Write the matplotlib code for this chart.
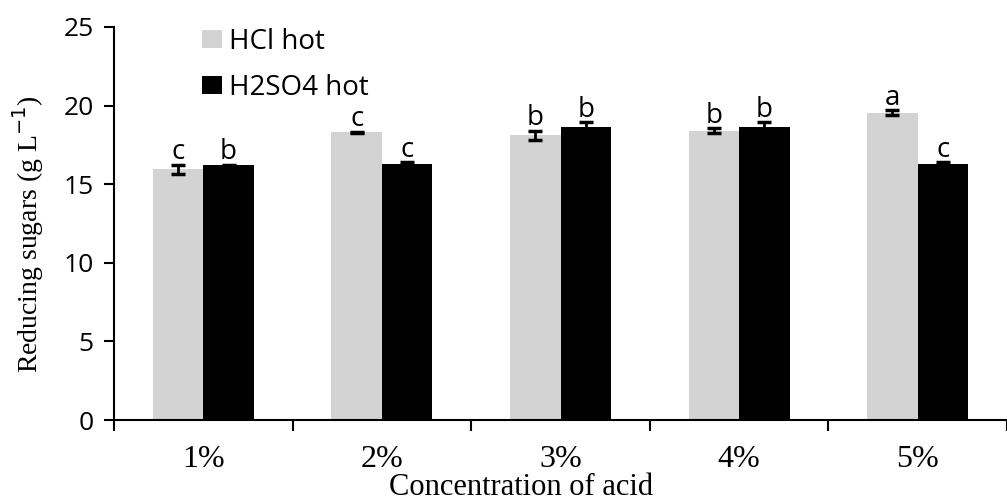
import numpy as np
import matplotlib.pyplot as plt

# data
conc = ['1%', '2%', '3%', '4%', '5%']
hcl = [15.95, 18.3, 18.1, 18.4, 19.55]
hcl_err = [0.3, 0.05, 0.3, 0.15, 0.15]
h2so4 = [16.2, 16.3, 18.65, 18.65, 16.3]
h2so4_err = [0.05, 0.1, 0.3, 0.3, 0.1]
hcl_letters = ['c', 'c', 'b', 'b', 'a']
h2so4_letters = ['b', 'c', 'b', 'b', 'c']

fig = plt.figure(figsize=(10.07, 5.01), dpi=100)
ax = fig.add_axes([114/1007, 1-420/501, 893/1007, 393/501])

x = np.arange(len(conc))
w = 0.283
ax.bar(x - w/2, hcl, w, color='#d3d3d3', label='HCl hot', zorder=2)
ax.bar(x + w/2, h2so4, w, color='black', label='H2SO4 hot', zorder=2)
ax.errorbar(x - w/2, hcl, yerr=hcl_err, fmt='none', ecolor='black',
            elinewidth=2, capsize=5, capthick=2.5, zorder=3)
ax.errorbar(x + w/2, h2so4, yerr=h2so4_err, fmt='none', ecolor='black',
            elinewidth=2, capsize=5, capthick=2.5, zorder=3)

# significance letters
for xi, v, e, t in zip(x - w/2, hcl, hcl_err, hcl_letters):
    ax.text(xi, v + e + 0.35, t, ha='center', va='baseline', fontsize=20, family='Open Sans')
for xi, v, e, t in zip(x + w/2, h2so4, h2so4_err, h2so4_letters):
    ax.text(xi, v + e + 0.35, t, ha='center', va='baseline', fontsize=20, family='Open Sans')

ax.set_xlim(-0.5, -0.5 + 893/180)
ax.set_ylim(0, 25)
ax.set_yticks([0, 5, 10, 15, 20, 25])
ax.tick_params(axis='y', direction='out', length=7.5, width=1.5, labelsize=19, pad=7)
for lab in ax.get_yticklabels():
    lab.set_family('Open Sans')

ax.set_xticks(x)
ax.set_xticklabels(conc, family='Liberation Serif', fontsize=23)
ax.set_xticks(np.arange(-0.5, 5, 1), minor=True)
ax.tick_params(axis='x', which='major', length=0, pad=18)
ax.tick_params(axis='x', which='minor', direction='out', length=8, width=1.5)

for s in ['top', 'right']:
    ax.spines[s].set_visible(False)
ax.spines['left'].set_linewidth(1.5)
ax.spines['bottom'].set_linewidth(1.5)

ax.set_ylabel('Reducing sugars (g L$^{-1}$)', family='Liberation Serif', fontsize=20)
ax.yaxis.set_label_coords(-0.076, 0.472)
ax.set_xlabel('Concentration of acid', family='Liberation Serif', fontsize=22)
ax.xaxis.set_label_coords(0.456, -0.134)

ax.legend(loc='upper left', bbox_to_anchor=(0.0985, 0.998), frameon=False,
          prop={'family': 'Open Sans', 'size': 20}, handlelength=0.72,
          handleheight=0.6, handletextpad=0.25, labelspacing=0.64,
          borderpad=0, borderaxespad=0)

fig.savefig('out.png', dpi=100)
